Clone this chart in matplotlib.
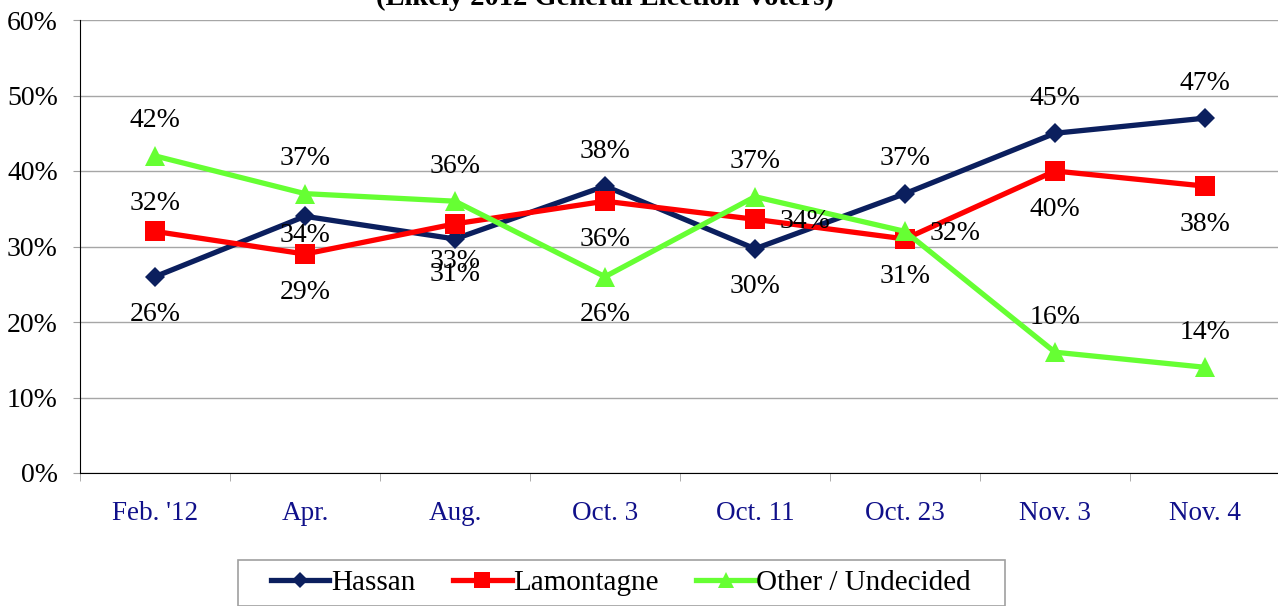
import matplotlib
matplotlib.use("Agg")
import matplotlib.pyplot as plt
from matplotlib.patches import Rectangle

# 데이터
dates = ["Feb. '12", "Apr.", "Aug.", "Oct. 3", "Oct. 11", "Oct. 23", "Nov. 3", "Nov. 4"]
hassan = [26, 34, 31, 38, 29.7, 37, 45, 47]
lamontagne = [32, 29, 33, 36, 33.6, 31, 40, 38]
other = [42, 37, 36, 26, 36.6, 32, 16, 14]
y_ticks = [0, 10, 20, 30, 40, 50, 60]

# 라벨 위치 (픽셀 오프셋, 위쪽이 +)
A, B, R = (0, 35), (0, -38), (50, -2)
hassan_lbl = [B, (0, -19), (0, -36), A, B, A, A, A]
lamontagne_lbl = [(0, 28), B, B, B, R, B, B, B]
other_lbl = [A, A, A, B, A, R, A, A]

plt.rcParams['font.family'] = ['Liberation Serif', 'DejaVu Serif']

fig = plt.figure(figsize=(12.78, 6.06), dpi=100)
ax = fig.add_axes([80 / 1278, 1 - 473 / 606, 1200 / 1278, 453 / 606])

x = list(range(len(dates)))
series = [
    ("Hassan", hassan, hassan_lbl, "#0B1F5E", "D", 10.5),
    ("Lamontagne", lamontagne, lamontagne_lbl, "#FF0000", "s", 14),
    ("Other / Undecided", other, other_lbl, "#66FF33", "^", 14.5),
]
for name, vals, lbls, col, mk, ms in series:
    ax.plot(x, vals, color=col, lw=3.8, marker=mk, ms=ms, mew=0, label=name)
    for xi, v, off in zip(x, vals, lbls):
        ax.annotate("%.0f%%" % v, (xi, v), xytext=off, textcoords="offset pixels",
                    ha="center", va="center", fontsize=20, color="black")

ax.set_xlim(-0.5, len(dates) - 0.5)
ax.set_ylim(0, 60)
ax.set_yticks(y_ticks)
ax.set_yticklabels(["%d%%" % t for t in y_ticks], fontsize=20)
ax.set_xticks(x)
ax.set_xticklabels(dates, fontsize=19.5, color="#10108A")
ax.set_xticks([i - 0.5 for i in range(len(dates) + 1)], minor=True)
ax.tick_params(axis="x", which="major", length=0, pad=20)
ax.tick_params(axis="x", which="minor", length=6, color="#A0A0A0", direction="out")
ax.tick_params(axis="y", length=5, color="#A0A0A0", pad=11)
ax.grid(axis="y", color="#A6A6A6", lw=1)
ax.set_axisbelow(True)
for s in ["top", "right"]:
    ax.spines[s].set_visible(False)
ax.spines["left"].set_color("black")
ax.spines["bottom"].set_color("black")

# 제목 (위쪽 잘림)
fig.text(605 / 1278, 1 - 5 / 606, "(Likely 2012 General Election Voters)",
         ha="center", va="baseline", fontsize=20.5, fontweight="bold")

# 범례
fig.patches.append(Rectangle((238 / 1278, 0), (1005 - 238) / 1278, 1 - 560 / 606,
                             transform=fig.transFigure, fill=False,
                             edgecolor="#A0A0A0", lw=1.2))
fig.legend(loc="center", bbox_to_anchor=(621 / 1278, 1 - 583 / 606), ncol=3,
           frameon=False, fontsize=21, handlelength=2.0, handletextpad=0.05,
           columnspacing=1.3, markerscale=0.8, borderpad=0)

plt.savefig("out.png", dpi=100)
